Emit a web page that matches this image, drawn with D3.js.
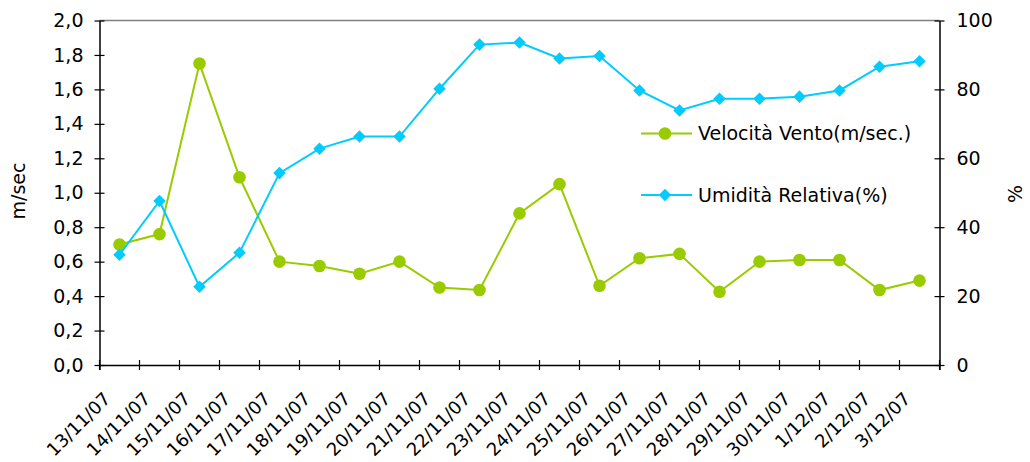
<!DOCTYPE html>
<html><head><meta charset="utf-8">
<script src="https://cdn.jsdelivr.net/npm/d3@7"></script>
<style>body{margin:0;background:#fff;}svg{display:block;font-family:"DejaVu Sans",sans-serif;}</style>
</head><body><svg id="c" width="1030" height="462"></svg>
<script>
const categories = ["13/11/07","14/11/07","15/11/07","16/11/07","17/11/07","18/11/07","19/11/07","20/11/07","21/11/07","22/11/07","23/11/07","24/11/07","25/11/07","26/11/07","27/11/07","28/11/07","29/11/07","30/11/07","1/12/07","2/12/07","3/12/07"];
const windSpeed = [0.70,0.76,1.75,1.09,0.60,0.575,0.53,0.60,0.45,0.435,0.88,1.05,0.46,0.62,0.645,0.425,0.60,0.61,0.61,0.435,0.49];
const humidity = [32,47.6,22.7,32.6,55.7,62.8,66.3,66.3,80.2,93.0,93.6,89.0,89.7,79.7,73.9,77.3,77.3,77.9,79.7,86.6,88.2];
const leftTicks = [0,0.2,0.4,0.6,0.8,1.0,1.2,1.4,1.6,1.8,2.0];
const rightTicks = [0,20,40,60,80,100];
const seriesNames = ["Velocità Vento(m/sec.)","Umidità Relativa(%)"];

const svg = d3.select("#c");
const L=99.5, R=939.5, T=20.5, B=365;
const x = d3.scaleBand().domain(categories).range([L,R]);
const yL = d3.scaleLinear().domain([0,2]).range([B,T]);
const yR = d3.scaleLinear().domain([0,100]).range([B,T]);
const green="#99cc00", cyan="#00ccff";
const fs=19;

// top border
svg.append("line").attr("x1",L).attr("x2",R).attr("y1",T).attr("y2",T).attr("stroke","#808080").attr("stroke-width",1.5);

// left axis
const gl = svg.append("g").attr("transform",`translate(${L},0)`)
  .call(d3.axisLeft(yL).tickValues(leftTicks).tickSizeInner(5).tickSizeOuter(0).tickPadding(11)
    .tickFormat(d=>d3.format(".1f")(d).replace(".",",")));
gl.selectAll(".tick line").attr("x1",5).attr("x2",-5);
// right axis
const gr = svg.append("g").attr("transform",`translate(${R},0)`)
  .call(d3.axisRight(yR).tickValues(rightTicks).tickSizeInner(5).tickSizeOuter(0).tickPadding(12));
gr.selectAll(".tick line").attr("x1",-5).attr("x2",5);
// bottom axis
const gb = svg.append("g").attr("transform",`translate(0,${B})`)
  .call(d3.axisBottom(x).tickSizeOuter(0).tickSize(5));
gb.selectAll(".tick line").remove();
const edges = categories.map(c=>x(c)).concat([R]);
gb.selectAll(".edge").data(edges).enter().append("line").attr("class","edge")
  .attr("x1",d=>d).attr("x2",d=>d).attr("y1",-5).attr("y2",5).attr("stroke","#000");
[gl,gr,gb].forEach(g=>{
  g.selectAll("text").attr("font-size",fs).attr("font-family","DejaVu Sans").attr("fill","#000");
  g.selectAll("path.domain").attr("stroke","#000").attr("stroke-width",1.5);
  g.selectAll("line").attr("stroke","#000").attr("stroke-width",1.2);
});
gb.selectAll(".tick text").attr("x",0).attr("y",0).attr("dy",0).attr("font-size",18)
  .attr("transform","translate(-8,35) rotate(-45)").attr("text-anchor","end");

const cx = c=>x(c)+x.bandwidth()/2;
// wind line
svg.append("path").datum(windSpeed).attr("fill","none").attr("stroke",green).attr("stroke-width",2)
  .attr("d",d3.line().x((d,i)=>cx(categories[i])).y(d=>yL(d)));
svg.selectAll(".wm").data(windSpeed).enter().append("circle")
  .attr("cx",(d,i)=>cx(categories[i])).attr("cy",d=>yL(d)).attr("r",6.3).attr("fill",green);
// humidity
svg.append("path").datum(humidity).attr("fill","none").attr("stroke",cyan).attr("stroke-width",2)
  .attr("d",d3.line().x((d,i)=>cx(categories[i])).y(d=>yR(d)));
const diamond = d3.symbol().type(d3.symbolDiamond2).size(100);
svg.selectAll(".hm").data(humidity).enter().append("path")
  .attr("d",diamond).attr("transform",(d,i)=>`translate(${cx(categories[i])},${yR(d)})`).attr("fill",cyan);

// legend
const lg = [{y:133.5,c:green,t:"c"},{y:195,c:cyan,t:"d"}];
lg.forEach((e,i)=>{
  svg.append("line").attr("x1",641).attr("x2",692).attr("y1",e.y).attr("y2",e.y).attr("stroke",e.c).attr("stroke-width",2);
  if(e.t==="c") svg.append("circle").attr("cx",665).attr("cy",e.y).attr("r",6.3).attr("fill",e.c);
  else svg.append("path").attr("d",diamond).attr("transform",`translate(665,${e.y})`).attr("fill",e.c);
  svg.append("text").attr("x",698).attr("y",e.y).attr("dy","0.36em").attr("font-size",fs).attr("fill","#000").text(seriesNames[i]);
});

// axis titles
svg.append("text").attr("transform","translate(25,191) rotate(-90)").attr("text-anchor","middle").attr("font-size",fs).text("m/sec");
svg.append("text").attr("transform","translate(1022,194) rotate(-90)").attr("text-anchor","middle").attr("font-size",fs).text("%");
</script></body></html>
